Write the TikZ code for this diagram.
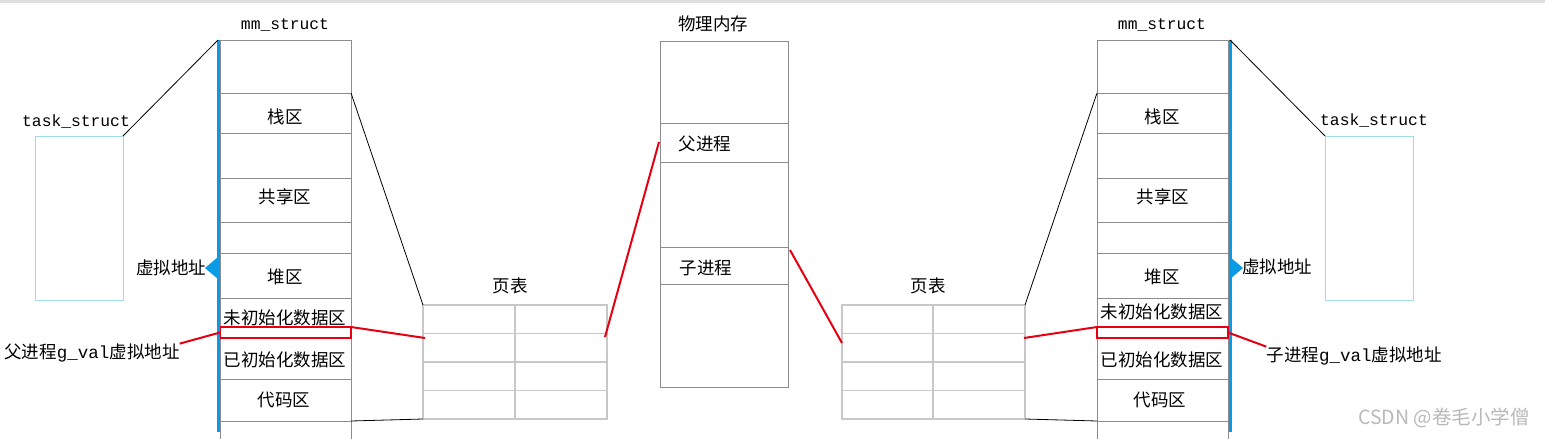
\documentclass[tikz,border=0pt]{standalone}
\usepackage{fontspec}
\newfontfamily\cjk{Noto Sans CJK SC}
\newfontfamily\mono{Liberation Mono}
\definecolor{boxgray}{HTML}{8C8C8C}
\definecolor{ptgray}{HTML}{C8C8C8}
\definecolor{taskblue}{HTML}{A0DCEA}
\definecolor{lineblue}{HTML}{0A9BE6}
\definecolor{rred}{HTML}{E60012}
\tikzset{
  gbox/.style={draw=boxgray, line width=1pt},
  ptline/.style={draw=ptgray, line width=1.3pt},
  taskbox/.style={draw=taskblue, line width=1pt, inner sep=0, outer sep=0},
  plainbox/.style={shape=rectangle, inner sep=0, outer sep=0},
  redbox/.style={draw=rred, line width=2pt, inner sep=0, outer sep=0},
  redline/.style={draw=rred, line width=2pt},
  blackline/.style={draw=black, line width=0.8pt},
  blueline/.style={draw=lineblue, line width=3pt},
  cn/.style={font=\cjk\fontsize{17.5}{20}\selectfont, inner sep=0},
  mn/.style={font=\mono\fontsize{16.3}{18}\selectfont, inner sep=0},
}
\begin{document}
\begin{tikzpicture}[x=1pt,y=-1pt]
\useasboundingbox (0,0) rectangle (1545,439);
\fill[white] (0,0) rectangle (1545,439);
\draw[gray!25, line width=2.5pt] (0,1.5) -- (1545,1.5);

% ---------- left side ----------
\node[taskbox, minimum width=88, minimum height=164] (ltask) at (79,218) {};
\node[mn] (ltasklbl) at (76,121) {task\_struct};
\node[mn] (lmmlbl) at (285,25) {mm\_struct};
\node[plainbox, minimum width=131, minimum height=399] (lmm) at (285.5,239.5) {};
\draw[gbox] (lmm.south west) |- (lmm.north east) -- (lmm.south east);
\foreach \y in {93,133,178,222,253,298,379,421}
  \draw[gbox] (lmm.west |- 0,\y) -- (lmm.east |- 0,\y);
\node[cn] (l1) at (285,117) {栈区};
\node[cn] (l2) at (285,197) {共享区};
\node[cn] (l3) at (285,277) {堆区};
\node[cn] (l4) at (285,318) {未初始化数据区};
\node[cn] (l5) at (285,360) {已初始化数据区};
\node[cn] (l6) at (284,400) {代码区};
\node[redbox, minimum width=131, minimum height=11] (lred) at (285.5,332.5) {};
\coordinate (lbtop) at (218,40);
\coordinate (lbbot) at (218,432);
\draw[blueline] (lbtop) -- (lbbot);
\fill[lineblue] (205,268) -- (218,257) -- (218,279) -- cycle;
\node[cn] (lva) at (171,268) {虚拟地址};
\node[cn] (lgv) at (92,353) {父进程{\mono g\_val}虚拟地址};
\draw[blackline] (ltask.north east) -- (lbtop);

% left page table
\node[cn] (lptlbl) at (510,286) {页表};
\node[plainbox, ptline, minimum width=184, minimum height=114] (lpt) at (515,362) {};
\foreach \y in {333.5,362,390.5}
  \draw[ptline] (lpt.west |- 0,\y) -- (lpt.east |- 0,\y);
\draw[ptline] (515,305) -- (515,419);
\draw[blackline] (lmm.east |- 0,93) -- (lpt.north west);
\draw[blackline] (lmm.east |- 0,421) -- (lpt.south west);

% ---------- physical memory ----------
\node[cn] (physlbl) at (713,24) {物理内存};
\node[plainbox, gbox, minimum width=128, minimum height=346] (phys) at (724,214) {};
\foreach \y in {123,162,247,284}
  \draw[gbox] (phys.west |- 0,\y) -- (phys.east |- 0,\y);
\node[cn] (pp) at (705,144) {父进程};
\node[cn] (pc) at (706,268) {子进程};

% ---------- right side ----------
\node[taskbox, minimum width=88, minimum height=164] (rtask) at (1369,218) {};
\node[mn] (rtasklbl) at (1374,120) {task\_struct};
\node[mn] (rmmlbl) at (1162,25) {mm\_struct};
\node[plainbox, minimum width=131, minimum height=399] (rmm) at (1162.5,239.5) {};
\draw[gbox] (rmm.south west) |- (rmm.north east) -- (rmm.south east);
\foreach \y in {93,133,178,222,253,298,379,421}
  \draw[gbox] (rmm.west |- 0,\y) -- (rmm.east |- 0,\y);
\node[cn] (r1) at (1162,117) {栈区};
\node[cn] (r2) at (1163,197) {共享区};
\node[cn] (r3) at (1162,277) {堆区};
\node[cn] (r4) at (1162,312) {未初始化数据区};
\node[cn] (r5) at (1162,360) {已初始化数据区};
\node[cn] (r6) at (1160,400) {代码区};
\node[redbox, minimum width=131, minimum height=11] (rred) at (1162.5,332.5) {};
\coordinate (rbtop) at (1230,40);
\coordinate (rbbot) at (1230,432);
\draw[blueline] (rbtop) -- (rbbot);
\fill[lineblue] (1243,268) -- (1230,257) -- (1230,279) -- cycle;
\node[cn] (rva) at (1277,267) {虚拟地址};
\node[cn] (rgv) at (1354,356) {子进程{\mono g\_val}虚拟地址};
\draw[blackline] (rbtop) -- (rtask.north west);

% right page table
\node[cn] (rptlbl) at (928,286) {页表};
\node[plainbox, ptline, minimum width=183, minimum height=114] (rpt) at (933.5,362) {};
\foreach \y in {333.5,362,390.5}
  \draw[ptline] (rpt.west |- 0,\y) -- (rpt.east |- 0,\y);
\draw[ptline] (933,305) -- (933,419);
\draw[blackline] (rmm.west |- 0,93) -- (rpt.north east);
\draw[blackline] (rmm.west |- 0,421) -- (rpt.south east);

% ---------- red connectors ----------
\coordinate (lptin) at (425,338);
\coordinate (lptout) at (605,337);
\coordinate (physin) at (659,142);
\coordinate (physout) at (790,250);
\coordinate (rptin) at (842,343);
\coordinate (rptout) at (1024,338);
\draw[redline] (lgv.north east) -- (lred.west);
\draw[redline] (lred.north east) -- (lptin);
\draw[redline] (lptout) -- (physin);
\draw[redline] (physout) -- (rptin);
\draw[redline] (rptout) -- (rred.north west);
\draw[redline] (rred.east) -- (rgv.north west);

% watermark
\node[font=\cjk\fontsize{19.5}{22}\selectfont, text=gray!55, inner sep=0] (wm) at (1444,418) {CSDN @卷毛小学僧};
\end{tikzpicture}
\end{document}
